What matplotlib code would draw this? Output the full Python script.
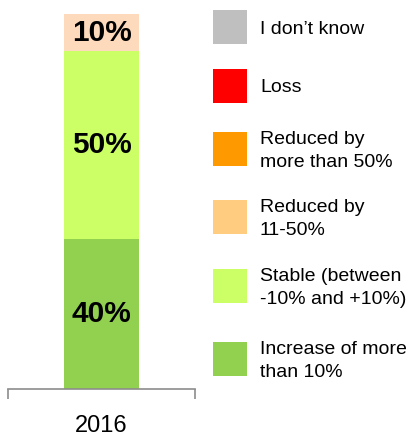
import matplotlib.pyplot as plt
import matplotlib.patches as patches

plt.rcParams['font.family'] = ['Liberation Sans', 'DejaVu Sans']

# --- Data ---
year = "2016"
segment_values = [40, 50, 10]
segment_labels = ["40%", "50%", "10%"]
segment_colors = ['#92D050', '#CCFF66', '#FDDABB']

legend_labels = [
    "I don\u2019t know",
    "Loss",
    "Reduced by\nmore than 50%",
    "Reduced by\n11-50%",
    "Stable (between\n-10% and +10%)",
    "Increase of more\nthan 10%",
]
legend_colors = ['#BFBFBF', '#FF0000', '#FF9900', '#FFCC80', '#CCFF66', '#92D050']

W, H = 412, 436
fig = plt.figure(figsize=(W / 100, H / 100), dpi=100)

# --- Bar axes (pixel placement) ---
ax = fig.add_axes([8 / W, (H - 389) / H, 187 / W, 375 / H])
bottom = 0
for val, lab, col in zip(segment_values, segment_labels, segment_colors):
    ax.bar(0, val, bottom=bottom, width=1.0, color=col, linewidth=0)
    ax.text(0, bottom + val / 2, lab, ha='center', va='center',
            fontsize=21.5, fontweight='bold', color='black')
    bottom += val

ax.set_xlim(-1.25, 1.25)
ax.set_ylim(0, 100)
for s in ['top', 'right', 'left']:
    ax.spines[s].set_visible(False)
ax.spines['bottom'].set_color('#8C8C8C')
ax.spines['bottom'].set_linewidth(1.2)
ax.set_yticks([])
ax.set_xticks([0])
ax.set_xticklabels([year], fontsize=17)
ax.tick_params(axis='x', which='major', length=0, pad=19)
ax.set_xticks([-1.25, 1.25], minor=True)
ax.tick_params(axis='x', which='minor', length=7, width=1.2, color='#8C8C8C',
               direction='out')

# --- Legend drawn manually ---
lax = fig.add_axes([0, 0, 1, 1])
lax.set_xlim(0, W)
lax.set_ylim(H, 0)
lax.axis('off')
row_tops = [10, 69, 132, 200, 269, 342]
for top, lab, col in zip(row_tops, legend_labels, legend_colors):
    lax.add_patch(patches.Rectangle((213, top), 34, 34, facecolor=col, edgecolor='none'))
    lax.text(260, top + 19, lab, ha='left', va='center', fontsize=14,
             linespacing=1.4, color='black')

fig.savefig('out.png', dpi=100)
